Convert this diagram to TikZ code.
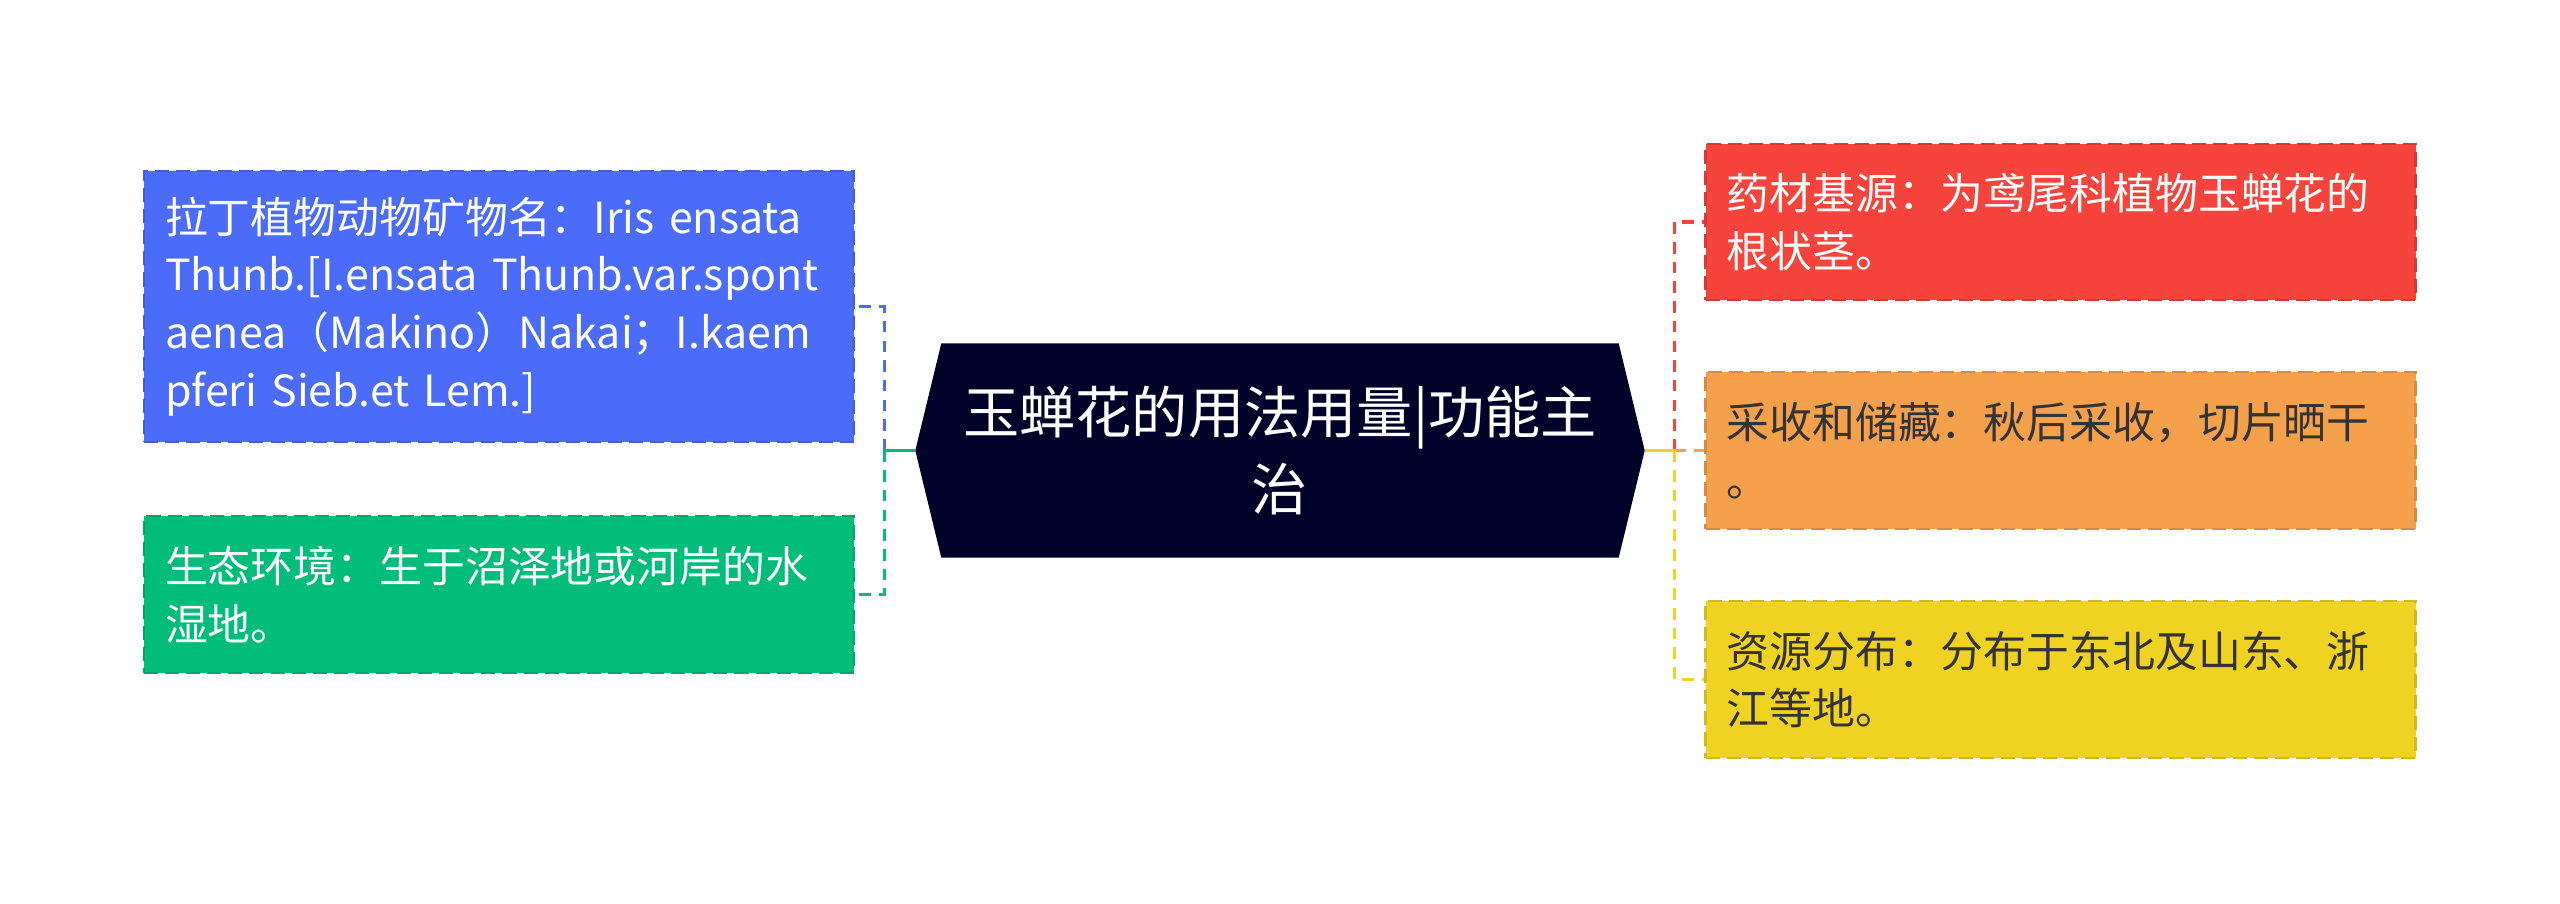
\documentclass[tikz,border=0pt]{standalone}
\usepackage{fontspec}
\setmainfont{Noto Sans CJK SC}
\usetikzlibrary{calc,backgrounds}

\definecolor{rootNavy}{HTML}{000229}
\definecolor{latinBlue}{HTML}{4B6CF8}
\definecolor{habitatGreen}{HTML}{00BE7A}
\definecolor{sourceRed}{HTML}{F6433B}
\definecolor{harvestOrange}{HTML}{F5A04B}
\definecolor{distribYellow}{HTML}{F0D322}
\definecolor{darkText}{HTML}{333333}

\begin{document}
\begin{tikzpicture}[
	leaf/.style={draw=#1!87!black, fill=#1, dash pattern=on 4pt off 2pt, line width=0.7pt, minimum width=7.1cm, text width=6.68cm, inner xsep=0.21cm, align=left, font=\fontsize{12.2}{16.4}\selectfont},
	edge/.style={draw=#1, line width=0.95pt, dash pattern=on 3.3pt off 2.3pt},
	stem/.style={draw=#1, line width=0.95pt}
]
	\useasboundingbox (0,0) rectangle (25.6,-9.03);
	
	\node[minimum width=6.76cm, minimum height=2.13cm, text=white, align=center, font=\fontsize{16}{22}\selectfont] (root) at (12.80,-4.505) {玉蝉花的用法用量|功能主\\治};
	\coordinate (tipL) at ($(root.west)+(-0.26,0)$);
	\coordinate (tipR) at ($(root.east)+(0.26,0)$);
	% hexagon behind the title
	\begin{scope}[on background layer]
		\fill[rootNavy] (tipL) -- (root.north west) -- (root.north east) -- (tipR) -- (root.south east) -- (root.south west) -- cycle;
	\end{scope}
	
	% left side
	\node[leaf=latinBlue, text=white, minimum height=2.71cm] (latin) at (4.99,-3.065) {拉丁植物动物矿物名：Iris ensata\\Thunb.[I.ensata Thunb.var.spont\\aenea（Makino）Nakai；I.kaem\\pferi Sieb.et Lem.]};
	\node[leaf=habitatGreen, text=white, minimum height=1.57cm] (habitat) at (4.99,-5.945) {生态环境：生于沼泽地或河岸的水\\湿地。};
	
	% right side
	\node[leaf=sourceRed, text=white, minimum height=1.56cm] (source) at (20.605,-2.22) {药材基源：为鸢尾科植物玉蝉花的\\根状茎。};
	\node[leaf=harvestOrange, text=darkText, minimum height=1.57cm] (harvest) at (20.605,-4.505) {采收和储藏：秋后采收，切片晒干\\。};
	\node[leaf=distribYellow, text=darkText, minimum height=1.57cm] (distrib) at (20.605,-6.795) {资源分布：分布于东北及山东、浙\\江等地。};
	
	\coordinate (jl) at ($(tipL)+(-0.31,0)$);
	\coordinate (jr) at ($(tipR)+(0.30,0)$);
	
	\draw[edge=latinBlue] (jl) |- (latin.east);
	\draw[edge=habitatGreen] (jl) |- (habitat.east);
	\draw[stem=habitatGreen] (tipL) -- (jl);
	
	\draw[edge=sourceRed] (jr) |- (source.west);
	\draw[edge=harvestOrange] (jr) -- (harvest.west);
	\draw[edge=distribYellow] (jr) |- (distrib.west);
	\draw[stem=distribYellow] (tipR) -- (jr);
\end{tikzpicture}
\end{document}
